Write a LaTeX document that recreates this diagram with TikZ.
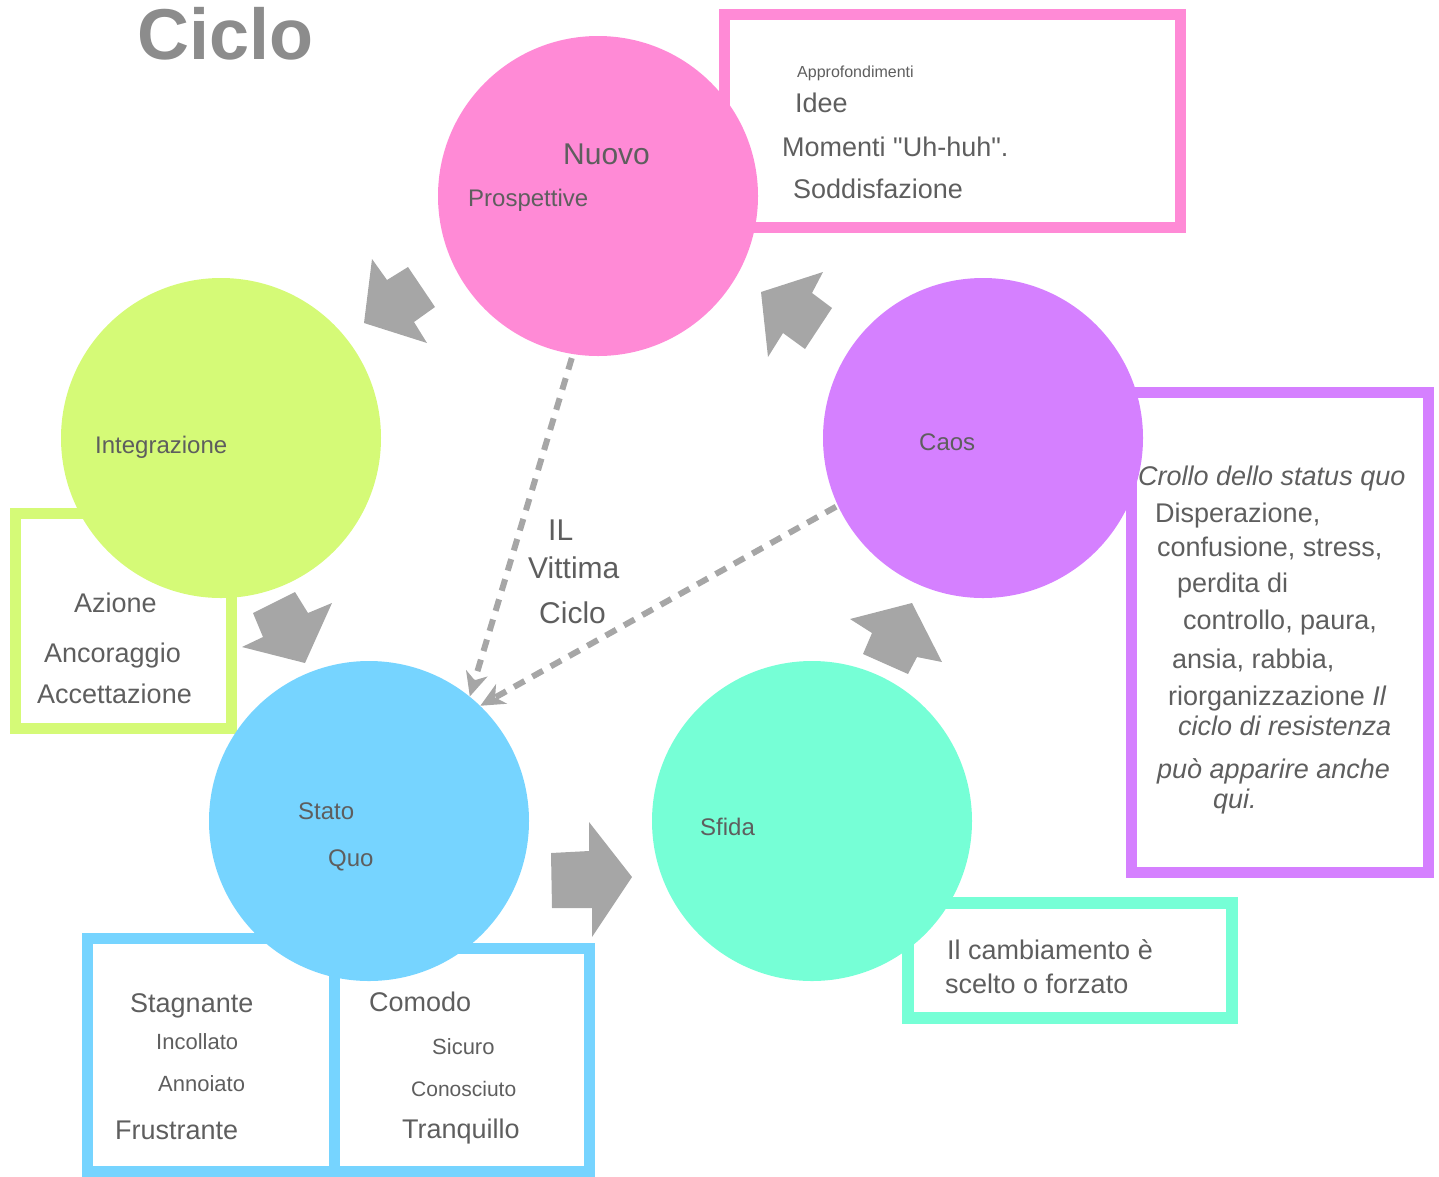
\documentclass[tikz,border=0pt]{standalone}
\usepackage{fontspec}
\setmainfont{Liberation Sans}[Ligatures=TeXOff]
\usetikzlibrary{arrows.meta}
\definecolor{pinkc}{HTML}{FF8AD6}
\definecolor{limec}{HTML}{D5FA77}
\definecolor{purplec}{HTML}{D580FF}
\definecolor{bluec}{HTML}{76D4FF}
\definecolor{tealc}{HTML}{76FFD6}
\definecolor{arrowgray}{HTML}{A6A6A6}
\definecolor{textgray}{HTML}{5E5E5E}
\definecolor{titlegray}{HTML}{8C8C8C}
\tikzset{
  circ/.style={circle, minimum size=320pt, inner sep=0pt},
  boxline/.style={line width=11pt},
  blockarrow/.style={fill=arrowgray},
  dasharrow/.style={draw=arrowgray, line width=6pt, dash pattern=on 12pt off 9pt,
    -{Stealth[length=24pt,width=22pt,inset=7pt]}},
  txt/.style={text=textgray, anchor=base west, inner sep=0pt},
  t16/.style={txt, font=\fontsize{16}{19}\selectfont},
  t21/.style={txt, font=\fontsize{21}{25}\selectfont},
  t22/.style={txt, font=\fontsize{22}{26}\selectfont},
  t24/.style={txt, font=\fontsize{24}{29}\selectfont},
  t27/.style={txt, font=\fontsize{27}{32}\selectfont},
  t30/.style={txt, font=\fontsize{30}{36}\selectfont}
}
\begin{document}
\begin{tikzpicture}[x=1pt,y=-1pt]
\useasboundingbox (0,0) rectangle (1439,1176);
% frames behind the circles
\draw[boxline, pinkc] (724,14) rectangle (1180,227);
\draw[boxline, limec] (15,513) rectangle (231,728);
\draw[boxline, purplec] (1131,392) rectangle (1428,872);
\draw[boxline, tealc, line width=12pt] (908,903) rectangle (1232,1018);
\draw[boxline, bluec] (87,938) rectangle (334,1171);
\draw[boxline, bluec] (334,948) rectangle (589,1171);
% circles
\node[circ, fill=pinkc] (nuovo) at (598,196) {};
\node[circ, fill=limec] (integr) at (221,438) {};
\node[circ, fill=purplec] (caos) at (983,438) {};
\node[circ, fill=bluec] (statoquo) at (369,821) {};
\node[circ, fill=tealc] (sfida) at (812,821) {};
% block arrows
\fill[blockarrow] (364,323) -- (372,259) -- (387,280) -- (408,267) -- (435,307) -- (414,322) -- (427,343) -- cycle;
\fill[blockarrow] (761,292) -- (823,272) -- (812,293) -- (832,308) -- (805,349) -- (783,333) -- (768,357) -- cycle;
\fill[blockarrow] (305,663) -- (242,647) -- (263,637) -- (253,613) -- (295,592) -- (308,613) -- (332,603) -- cycle;
\fill[blockarrow] (551,853) -- (589,851) -- (589,822) -- (632,877) -- (592,937) -- (592,908) -- (552,908) -- cycle;
\fill[blockarrow] (912,603) -- (942,662) -- (917,657) -- (908,674) -- (863,654) -- (872,633) -- (850,619) -- cycle;
% victim cycle
\draw[dasharrow, shorten <=4pt] (nuovo.261) -- (statoquo.51);
\draw[dasharrow, shorten <=2pt] (caos.205) -- (statoquo.46);
% title and labels
\node[txt, text=titlegray, font=\fontsize{72}{80}\selectfont\bfseries] (title) at (137,59) {Ciclo};
\node[t30] (nuovolbl) at (563,164) {Nuovo};
\node[t24] (prosp) at (468,206) {Prospettive};
\node[t16] (appr) at (797,77) {Approfondimenti};
\node[t27] (idee) at (795,112) {Idee};
\node[t27] (momenti) at (782,156) {Momenti "Uh-huh".};
\node[t27] (soddis) at (793,198) {Soddisfazione};
\node[t24] (integrlbl) at (95,453) {Integrazione};
\node[t27] (azione) at (74,612) {Azione};
\node[t27] (ancor) at (44,662) {Ancoraggio};
\node[t27] (accett) at (37,703) {Accettazione};
\node[t24] (caoslbl) at (919,450) {Caos};
\node[t27, font=\fontsize{27}{32}\selectfont\itshape] (crollo) at (1138,485) {Crollo dello status quo};
\node[t27] (disp) at (1155,522) {Disperazione,};
\node[t27] (conf) at (1157,556) {confusione, stress,};
\node[t27] (perd) at (1177,592) {perdita di};
\node[t27] (contr) at (1183,629) {controllo, paura,};
\node[t27] (ansia) at (1172,668) {ansia, rabbia,};
\node[t27] (riorg) at (1168,705) {riorganizzazione \textit{Il}};
\node[t27, font=\fontsize{27}{32}\selectfont\itshape] (resist) at (1178,735) {ciclo di resistenza};
\node[t27, font=\fontsize{27}{32}\selectfont\itshape] (appar) at (1157,778) {può apparire anche};
\node[t27, font=\fontsize{27}{32}\selectfont\itshape] (qui) at (1213,808) {qui.};
\node[t30] (il) at (548,540) {IL};
\node[t30] (vittima) at (528,578) {Vittima};
\node[t30] (ciclo) at (539,623) {Ciclo};
\node[t24] (stato) at (298,819) {Stato};
\node[t24] (quo) at (328,866) {Quo};
\node[t24] (sfidalbl) at (700,835) {Sfida};
\node[t27] (cambio) at (947,959) {Il cambiamento è};
\node[t27] (scelto) at (945,993) {scelto o forzato};
\node[t27] (stagn) at (130,1012) {Stagnante};
\node[t22] (incoll) at (156,1049) {Incollato};
\node[t22] (annoi) at (158,1091) {Annoiato};
\node[t27] (frustr) at (115,1139) {Frustrante};
\node[t27] (comodo) at (369,1011) {Comodo};
\node[t22] (sicuro) at (432,1054) {Sicuro};
\node[t21] (conosc) at (411,1096) {Conosciuto};
\node[t27] (tranq) at (402,1138) {Tranquillo};
\end{tikzpicture}
\end{document}
